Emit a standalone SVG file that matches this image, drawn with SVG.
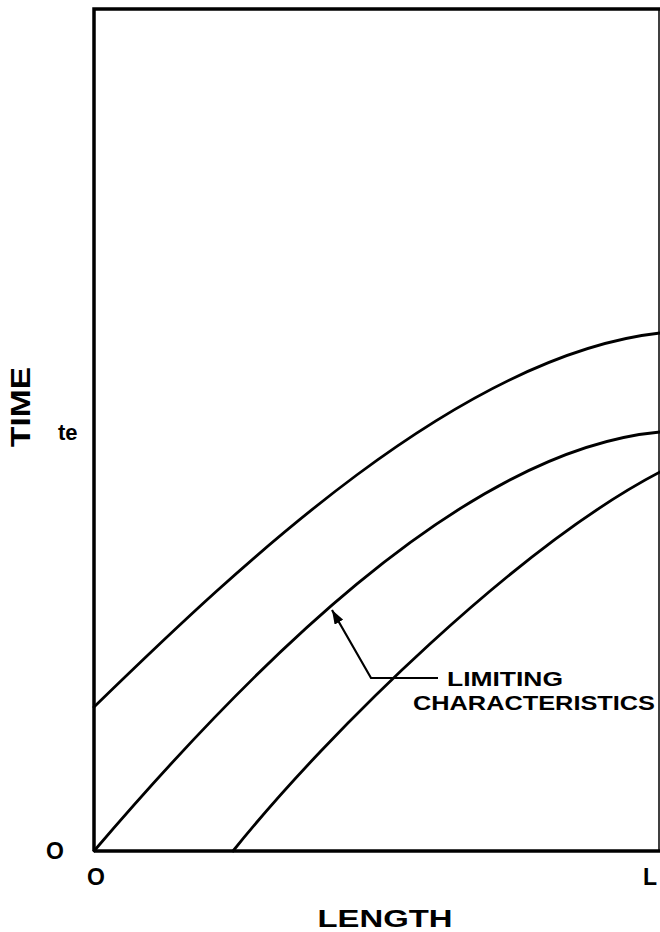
<svg xmlns="http://www.w3.org/2000/svg" width="660" height="932" viewBox="0 0 660 932">
<style>
.frame{fill:none;stroke:#000;stroke-width:3.5}
.curve{fill:none;stroke:#000;stroke-width:2.8;stroke-linecap:round}
.lead{fill:none;stroke:#000;stroke-width:2.2}
.lbl{font-family:"Liberation Sans",Arial,sans-serif;font-weight:bold;fill:#000}
</style>
<defs>
<marker id="ah" viewBox="0 0 14 10" refX="14" refY="5" markerWidth="14" markerHeight="10" markerUnits="userSpaceOnUse" orient="auto">
<path d="M0,0 L14,5 L0,10 z" fill="#000"/>
</marker>
</defs>
<rect x="0" y="0" width="660" height="932" fill="#fff"/>
<g id="frame">
<path class="frame" d="M94,851 L94,9 L660,9"/>
<path class="frame" d="M94,851 L660,851"/>
<path d="M659,9 L659,851" stroke="#000" stroke-width="1.5"/>
</g>
<g id="curves">
<path class="curve" d="M94,707 C240,565 460,355 660,333"/>
<path class="curve" d="M94,851 C240,680 460,450 660,432"/>
<path class="curve" d="M233,851 C330,730 520,545 660,472"/>
</g>
<g id="connectors">
<path class="lead" d="M438,678 L371,678 L332,610" marker-end="url(#ah)"/>
</g>
<g id="labels">
<text class="lbl" x="447" y="686" font-size="21" textLength="116" lengthAdjust="spacingAndGlyphs">LIMITING</text>
<text class="lbl" x="413" y="710" font-size="21" textLength="242" lengthAdjust="spacingAndGlyphs">CHARACTERISTICS</text>
<text class="lbl" x="0" y="0" font-size="27" transform="translate(30,407) rotate(-90)" text-anchor="middle" textLength="80" lengthAdjust="spacingAndGlyphs">TIME</text>
<text class="lbl" x="58" y="440" font-size="22">te</text>
<text class="lbl" x="55" y="859" font-size="23" text-anchor="middle">O</text>
<text class="lbl" x="96" y="885" font-size="23" text-anchor="middle">O</text>
<text class="lbl" x="657" y="885" font-size="23" text-anchor="end">L</text>
<text class="lbl" x="385" y="927" font-size="23" text-anchor="middle" textLength="135" lengthAdjust="spacingAndGlyphs">LENGTH</text>
</g>
</svg>
